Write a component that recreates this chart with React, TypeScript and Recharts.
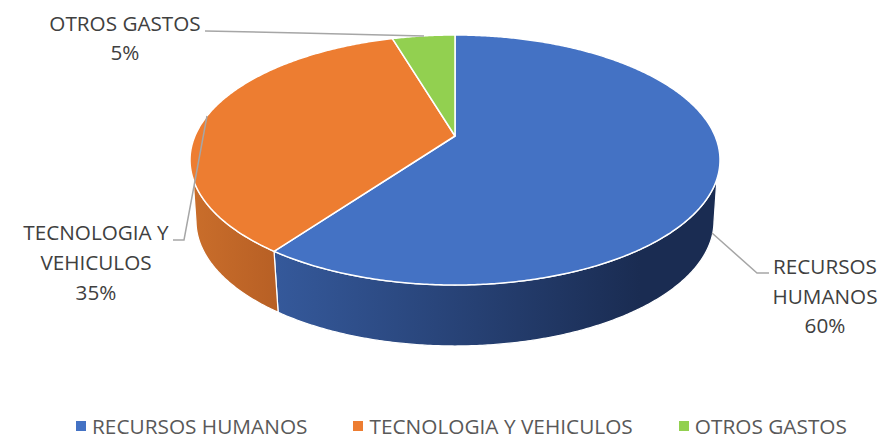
import { Legend, Pie, PieChart } from "recharts";

const categories = ["RECURSOS HUMANOS", "TECNOLOGIA Y VEHICULOS", "OTROS GASTOS"];
const values = [60, 35.4, 4.6];
const topColors = ["#4472c4", "#ed7d31", "#92d050"];
const wallStops = [
  ["#35599b", "#1a2c52"],
  ["#ca6e2b", "#b86025"],
  ["#6f9e3c", "#6f9e3c"],
];
const labelLines = [["RECURSOS", "HUMANOS"], ["TECNOLOGIA Y", "VEHICULOS"], ["OTROS GASTOS"]];

const chartData = categories.map((name, i) => ({ name, value: values[i], fill: topColors[i] }));

// where the labels and their leader lines sit, index follows categories
const labelLayout = [
  { x: 825, y: 274, gap: 29.5, line: "769,273 757,273 712,233" },
  { x: 96, y: 240, gap: 30, line: "173,240 184,240 207,116" },
  { x: 125, y: 31, gap: 28.7, line: "205,31 300,33 424,36" },
];

const RAD = Math.PI / 180;
const TILT_RY = 125; // vertical radius of the top ellipse
const APEX_OFFSET = 24 / 125; // apex sits above the ellipse centre
const DEPTH = 61;
const BOTTOM_SHRINK = 259 / 265;

// perspective: maps the unit circle to itself but moves its centre up
const project = (deg: number) => {
  const x = Math.cos(deg * RAD);
  const y = -Math.sin(deg * RAD);
  const w = 1 - APEX_OFFSET * y;
  return { x: (x * Math.sqrt(1 - APEX_OFFSET * APEX_OFFSET)) / w, y: (y - APEX_OFFSET) / w };
};

const Slice3D = (props: any) => {
  const { cx, cy, outerRadius, startAngle, endAngle, fill, name } = props;
  const idx = categories.indexOf(name ?? props.payload?.name);
  const ex = cx;
  const ey = cy + APEX_OFFSET * TILT_RY;

  const samples: { x: number; y: number }[] = [];
  const steps = Math.max(2, Math.ceil(Math.abs(startAngle - endAngle) * 2));
  for (let s = 0; s <= steps; s++) {
    samples.push(project(startAngle + ((endAngle - startAngle) * s) / steps));
  }

  const topPt = (p: { x: number; y: number }) => `${ex + p.x * outerRadius},${ey + p.y * TILT_RY}`;
  const botPt = (p: { x: number; y: number }) =>
    `${ex + p.x * outerRadius * BOTTOM_SHRINK},${ey + DEPTH + p.y * TILT_RY}`;

  const lowerBottom = samples.filter((p) => p.y >= 0);
  const lowerTop = samples.filter((p) => p.y >= 0.144);
  const wall = [...lowerBottom.map(botPt), ...[...lowerTop].reverse().map(topPt)].join(" ");
  const top = [`${cx},${cy}`, ...samples.map(topPt)].join(" ");
  const gradId = `wall-${idx}`;
  const xs = lowerBottom.map((p) => ex + p.x * outerRadius);

  return (
    <g>
      {lowerBottom.length > 0 && (
        <>
          <defs>
            <linearGradient
              id={gradId}
              gradientUnits="userSpaceOnUse"
              x1={Math.min(...xs)}
              x2={idx === 0 ? 640 : Math.max(...xs)}
              y1={0}
              y2={0}
            >
              <stop offset="0%" stopColor={wallStops[idx][0]} />
              <stop offset="100%" stopColor={wallStops[idx][1]} />
            </linearGradient>
          </defs>
          <polygon points={wall} fill={`url(#${gradId})`} stroke="#fff" strokeWidth={1.25} strokeLinejoin="round" />
        </>
      )}
      <polygon points={top} fill={fill} stroke="#fff" strokeWidth={1.5} strokeLinejoin="round" />
    </g>
  );
};

const textStyle = { fontFamily: "'Open Sans', sans-serif", fontSize: 20.7, fill: "#404040" };

const SliceLabel = (props: any) => {
  const { index, percent } = props;
  const spot = labelLayout[index];
  const rows = [...labelLines[index], `${Math.round(percent * 100)}%`];
  return (
    <g>
      <polyline points={spot.line} fill="none" stroke="#a6a6a6" strokeWidth={1.5} />
      {rows.map((row, i) => (
        <text key={row} x={spot.x} y={spot.y + i * spot.gap} textAnchor="middle" style={textStyle}>
          {row}
        </text>
      ))}
    </g>
  );
};

const LegendRow = () => (
  <div style={{ display: "flex", alignItems: "center", fontFamily: "'Open Sans', sans-serif", fontSize: 20.8, lineHeight: "20px", color: "#595959", whiteSpace: "nowrap" }}>
    {categories.map((name, i) => (
      <span key={name} style={{ display: "flex", alignItems: "center", marginRight: 46 }}>
        <span style={{ width: 10, height: 10, background: topColors[i], marginRight: 6 }} />
        {name}
      </span>
    ))}
  </div>
);

export default function App() {
  return (
    <div style={{ position: "absolute", left: 0, top: 0, width: 881, height: 440, background: "#fff" }}>
      <PieChart width={881} height={440} margin={{ top: 0, right: 0, bottom: 0, left: 0 }}>
        <Pie
          data={chartData}
          dataKey="value"
          nameKey="name"
          cx={455}
          cy={136}
          outerRadius={265}
          startAngle={90}
          endAngle={-270}
          shape={Slice3D}
          label={SliceLabel}
          labelLine={false}
          isAnimationActive={false}
        />
        <Legend content={LegendRow} wrapperStyle={{ left: 76, top: 416, width: 800, bottom: "auto" }} />
      </PieChart>
    </div>
  );
}
